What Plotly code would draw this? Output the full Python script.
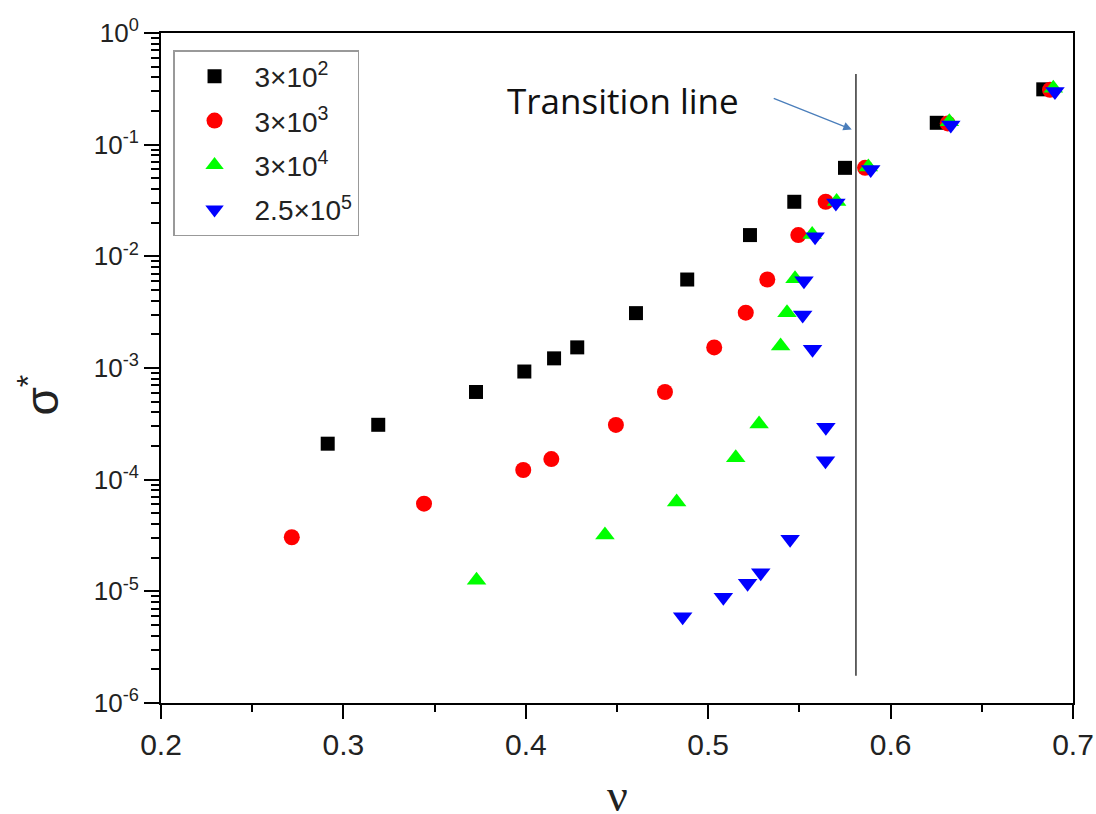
import math
import plotly.graph_objects as go

# ---- data ----
nu_300 = [0.2914, 0.3191, 0.3727, 0.3992, 0.4155, 0.4282, 0.4604, 0.4885, 0.5229, 0.5472, 0.5750, 0.6253, 0.6837]
sig_300 = [2.1e-4, 3.1e-4, 6.1e-4, 9.3e-4, 1.22e-3, 1.53e-3, 3.1e-3, 6.2e-3, 1.55e-2, 3.08e-2, 6.2e-2, 0.157, 0.313]

nu_3000 = [0.2717, 0.3442, 0.3986, 0.4140, 0.4494, 0.4763, 0.5033, 0.5206, 0.5324, 0.5494, 0.5644, 0.5860, 0.6313, 0.6874]
sig_3000 = [3.05e-5, 6.1e-5, 1.22e-4, 1.53e-4, 3.09e-4, 6.1e-4, 1.53e-3, 3.13e-3, 6.2e-3, 1.55e-2, 3.08e-2, 6.2e-2, 0.155, 0.31]

nu_30000 = [0.3730, 0.4434, 0.4827, 0.5151, 0.5279, 0.5397, 0.5432, 0.5476, 0.5570, 0.5704, 0.5878, 0.6322, 0.6892]
sig_30000 = [1.26e-5, 3.2e-5, 6.3e-5, 1.57e-4, 3.15e-4, 1.57e-3, 3.13e-3, 6.3e-3, 1.57e-2, 3.1e-2, 6.3e-2, 0.16, 0.32]

nu_250000 = [0.4860, 0.5083, 0.5216, 0.5288, 0.5449, 0.5643, 0.5645, 0.5572, 0.5518, 0.5525, 0.5586, 0.5700, 0.5891, 0.6330, 0.6901]
sig_250000 = [5.93e-6, 8.85e-6, 1.18e-5, 1.47e-5, 2.92e-5, 1.48e-4, 2.94e-4, 1.47e-3, 2.98e-3, 6.05e-3, 1.5e-2, 3.0e-2, 6.0e-2, 0.15, 0.30]

series_names = ["3×10<sup>2</sup>", "3×10<sup>3</sup>", "3×10<sup>4</sup>", "2.5×10<sup>5</sup>"]

transition_nu = [0.581, 0.581]
transition_sig = [1.75e-6, 0.43]

arrow_tail = (0.5351, 0.263)
arrow_tip = (0.5787, 0.137)
label_pos = (0.4533, 0.251)
label_text = "Transition line"

x_title = "ν"
y_title = "σ<sup>*</sup>"

x_ticks = [0.2, 0.3, 0.4, 0.5, 0.6, 0.7]
x_ticktext = ["0.2", "0.3", "0.4", "0.5", "0.6", "0.7"]
y_exps = [-6, -5, -4, -3, -2, -1, 0]
y_ticks = [10.0 ** e for e in y_exps]
y_ticktext = ["10<sup>%d</sup>" % e for e in y_exps]
y_minor = [k * 10.0 ** e for e in y_exps[:-1] for k in range(2, 10)]

# ---- figure ----
fig = go.Figure()
styles = [
    dict(symbol="square", color="#000000", size=14),
    dict(symbol="circle", color="#ff0000", size=16),
    dict(symbol="triangle-up", color="#00ff00", size=17),
    dict(symbol="triangle-down", color="#0000ff", size=17),
]
data = [(nu_300, sig_300), (nu_3000, sig_3000), (nu_30000, sig_30000), (nu_250000, sig_250000)]
for i, ((xs, ys), name, st) in enumerate(zip(data, series_names, styles)):
    fig.add_trace(go.Scatter(
        x=xs, y=ys, mode="markers", name=name, legendgroup=f"g{i}",
        marker=dict(symbol=st["symbol"], color=st["color"], size=st["size"], line=dict(width=0)),
    ))

fig.add_trace(go.Scatter(
    x=transition_nu, y=transition_sig, mode="lines", showlegend=False,
    line=dict(color="#333333", width=1.5), hoverinfo="skip",
))

fig.add_annotation(
    x=arrow_tip[0], y=math.log10(arrow_tip[1]), ax=arrow_tail[0], ay=math.log10(arrow_tail[1]),
    xref="x", yref="y", axref="x", ayref="y", text="", showarrow=True,
    arrowhead=2, arrowsize=1.3, arrowwidth=1.3, arrowcolor="#4a7ebb",
)
fig.add_annotation(
    x=label_pos[0], y=math.log10(label_pos[1]), xref="x", yref="y", text=label_text,
    showarrow=False, xanchor="center", yanchor="middle",
    font=dict(family="Open Sans", size=35, color="#111111"),
)

# axis titles placed as annotations (paper coords)
fig.add_annotation(
    x=0.5, y=-0.138, xref="paper", yref="paper", text=x_title, showarrow=False,
    xanchor="center", yanchor="middle",
    font=dict(family="Liberation Serif", size=46, color="#222"),
)
fig.add_annotation(
    x=-0.134, y=0.46, xref="paper", yref="paper", text=y_title, showarrow=False,
    xanchor="center", yanchor="middle", textangle=-90,
    font=dict(family="Liberation Sans", size=46, color="#222"),
)

axis_common = dict(
    showgrid=False, zeroline=False, showline=True, linecolor="black", linewidth=2,
    mirror=True, ticks="outside", tickcolor="black", tickwidth=2,
)

fig.update_xaxes(
    **axis_common, range=[0.2, 0.7], tickmode="array", tickvals=x_ticks, ticktext=x_ticktext,
    ticklen=14, tickfont=dict(family="Liberation Sans", size=30, color="#222"),
    minor=dict(ticks="outside", ticklen=7, tickwidth=2, tickcolor="black", dtick=0.05, showgrid=False),
)
fig.update_yaxes(
    **axis_common, type="log", range=[-6, 0], tickmode="array", tickvals=y_ticks, ticktext=y_ticktext,
    ticklen=15, tickfont=dict(family="Liberation Sans", size=26, color="#222"),
    minor=dict(ticks="outside", ticklen=8, tickwidth=2, tickcolor="black",
               tickmode="array", tickvals=y_minor, showgrid=False),
)

fig.update_layout(
    width=1096, height=814,
    margin=dict(l=161, r=23, t=33, b=111, autoexpand=False),
    paper_bgcolor="white", plot_bgcolor="white",
    showlegend=True,
    legend=dict(
        x=0.0132, y=0.9746, xanchor="left", yanchor="top",
        bgcolor="white", bordercolor="#999999", borderwidth=1.5,
        font=dict(family="Liberation Sans", size=28, color="#222"),
        tracegroupgap=5, itemsizing="trace", itemwidth=70,
    ),
)

fig.write_html(
    "out.html",
    config={"displayModeBar": False},
    post_script="document.body.style.margin='0';document.body.style.overflow='hidden';",
)
